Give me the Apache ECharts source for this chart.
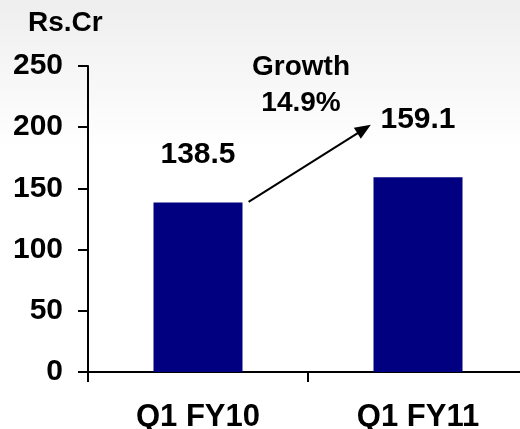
<!DOCTYPE html>
<html>
<head>
<meta charset="utf-8">
<script src="https://cdn.jsdelivr.net/npm/echarts@6/dist/echarts.min.js"></script>
<style>html,body{margin:0;padding:0;background:#fff}#c{width:520px;height:429px}</style>
</head>
<body>
<div id="c"></div>
<script>
const categories = ['Q1 FY10', 'Q1 FY11'];
const revenue = [138.5, 159.1];
const yTicks = [0, 50, 100, 150, 200, 250];
const unitLabel = 'Rs.Cr';
const growthText = ['Growth', '14.9%'];
// arrow annotation endpoints in data units (hidden value x-axis, y value)
const arrowStart = [0.23, 139];
const arrowEnd = [0.755, 198.5];
const labelDistance = [33, 43];

const FONT = '"Liberation Sans", Arial, sans-serif';
const chart = echarts.init(document.getElementById('c'), null, {renderer: 'canvas'});
chart.setOption({
  backgroundColor: {
    type: 'linear', x: 0, y: 0, x2: 0, y2: 1,
    colorStops: [{offset: 0, color: '#eeeeee'}, {offset: 0.35, color: '#ffffff'}, {offset: 1, color: '#ffffff'}]
  },
  animation: false,
  title: [
    {text: growthText.join('\n'), left: 301, top: 49, textAlign: 'center', padding: 0,
     textStyle: {fontFamily: FONT, fontWeight: 'bold', fontSize: 28, lineHeight: 36, color: '#000'}},
    {text: unitLabel, left: 28, top: 9, padding: 0,
     textStyle: {fontFamily: FONT, fontWeight: 'bold', fontSize: 28, lineHeight: 28, color: '#000'}}
  ],
  grid: {left: 88, width: 440, top: 66, bottom: 57, containLabel: false, outerBoundsMode: 'none'},
  xAxis: [
    {type: 'category', data: categories,
     axisLine: {lineStyle: {color: '#000', width: 2}},
     axisTick: {show: true, length: 10, lineStyle: {color: '#000', width: 2}},
     axisLabel: {margin: 30, fontFamily: FONT, fontWeight: 'bold', fontSize: 31, color: '#000'}},
    {type: 'value', min: -0.5, max: 1.5, show: false}
  ],
  yAxis: {
    type: 'value', min: yTicks[0], max: yTicks[yTicks.length - 1], interval: yTicks[1] - yTicks[0],
    axisLine: {show: true, onZero: false, lineStyle: {color: '#000', width: 2}},
    axisTick: {show: true, length: 10, lineStyle: {color: '#000', width: 2}},
    splitLine: {show: false},
    axisLabel: {margin: 25, fontFamily: FONT, fontWeight: 'bold', fontSize: 30, color: '#000'}
  },
  series: [
    {type: 'bar', xAxisIndex: 0, barWidth: 89,
     itemStyle: {color: '#000080'},
     data: revenue.map((v, i) => ({value: v, label: {distance: labelDistance[i]}})),
     label: {show: true, position: 'top', fontFamily: FONT, fontWeight: 'bold', fontSize: 30, color: '#000',
             formatter: p => p.value.toFixed(1)}},
    {type: 'line', xAxisIndex: 1, data: [], symbol: 'none',
     markLine: {silent: true, symbol: ['none', 'triangle'], symbolSize: [13, 16],
       label: {show: false},
       lineStyle: {color: '#000', width: 2, type: 'solid'},
       data: [[{coord: arrowStart}, {coord: arrowEnd}]]}}
  ]
});
</script>
</body>
</html>
